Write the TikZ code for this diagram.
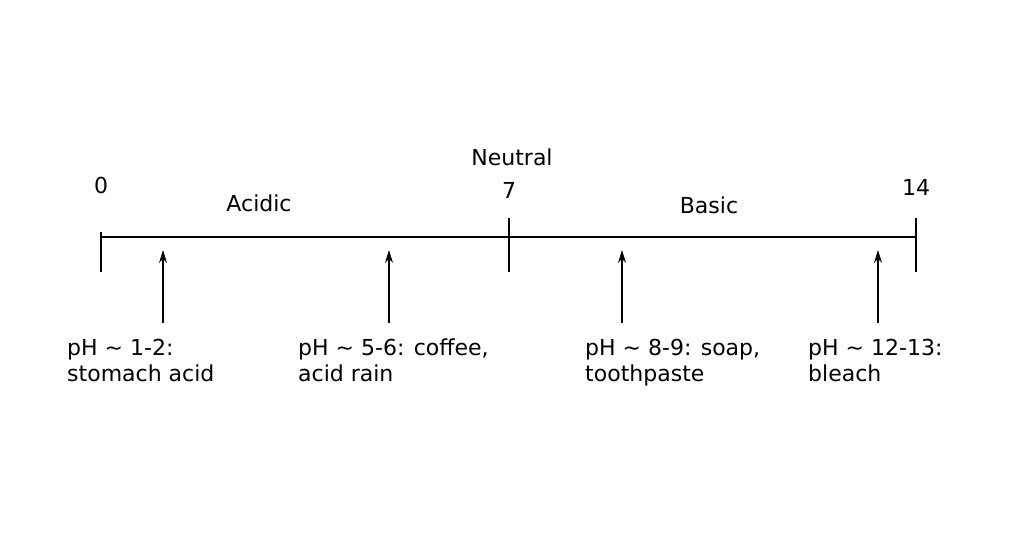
\documentclass[tikz,border=0pt]{standalone}
\usepackage{fontspec}
\setmainfont{DejaVu Sans}
\usetikzlibrary{arrows.meta}
\begin{document}
\begin{tikzpicture}[x=1pt,y=-1pt,
  lab/.style={font=\fontsize{22}{26}\selectfont,inner sep=0pt},
  note/.style={lab,anchor=north west,align=left},
  ln/.style={line width=1.6pt},
  arr/.style={line width=1.2pt,-{Stealth[length=13pt,width=8pt]}}]
\useasboundingbox (0,0) rectangle (1024,545);
\coordinate (L) at (101,237); \coordinate (R) at (916,237);
\draw[ln] (L) -- (R);
\draw[ln] (101,232) coordinate (t0a) -- (101,272);
\draw[ln] (509,218) -- (509,272);
\draw[ln] (916,218) -- (916,272);
\node[lab] (n0) at (101,185) {0};
\node[lab] (n7) at (509,190) {7};
\node[lab] (nn) at (512,157) {Neutral};
\node[lab] (n14) at (916,187) {14};
\node[lab] (ac) at (259,203) {Acidic};
\node[lab] (ba) at (709,205) {Basic};
\foreach \x/\tx/\t/\nm in {163/67/{pH \textasciitilde{} 1-2:\\stomach acid}/a,389/298/{pH \textasciitilde{} 5-6: coffee,\\acid rain}/b,622/585/{pH \textasciitilde{} 8-9: soap,\\toothpaste}/c,878/808/{pH \textasciitilde{} 12-13:\\bleach}/d}{
  \coordinate (s\nm) at (\x,323); \coordinate (e\nm) at (\x,250);
  \draw[arr] (s\nm) -- (e\nm);
  \node[note] (t\nm) at (\tx,339) {\t};
}
\end{tikzpicture}
\end{document}
